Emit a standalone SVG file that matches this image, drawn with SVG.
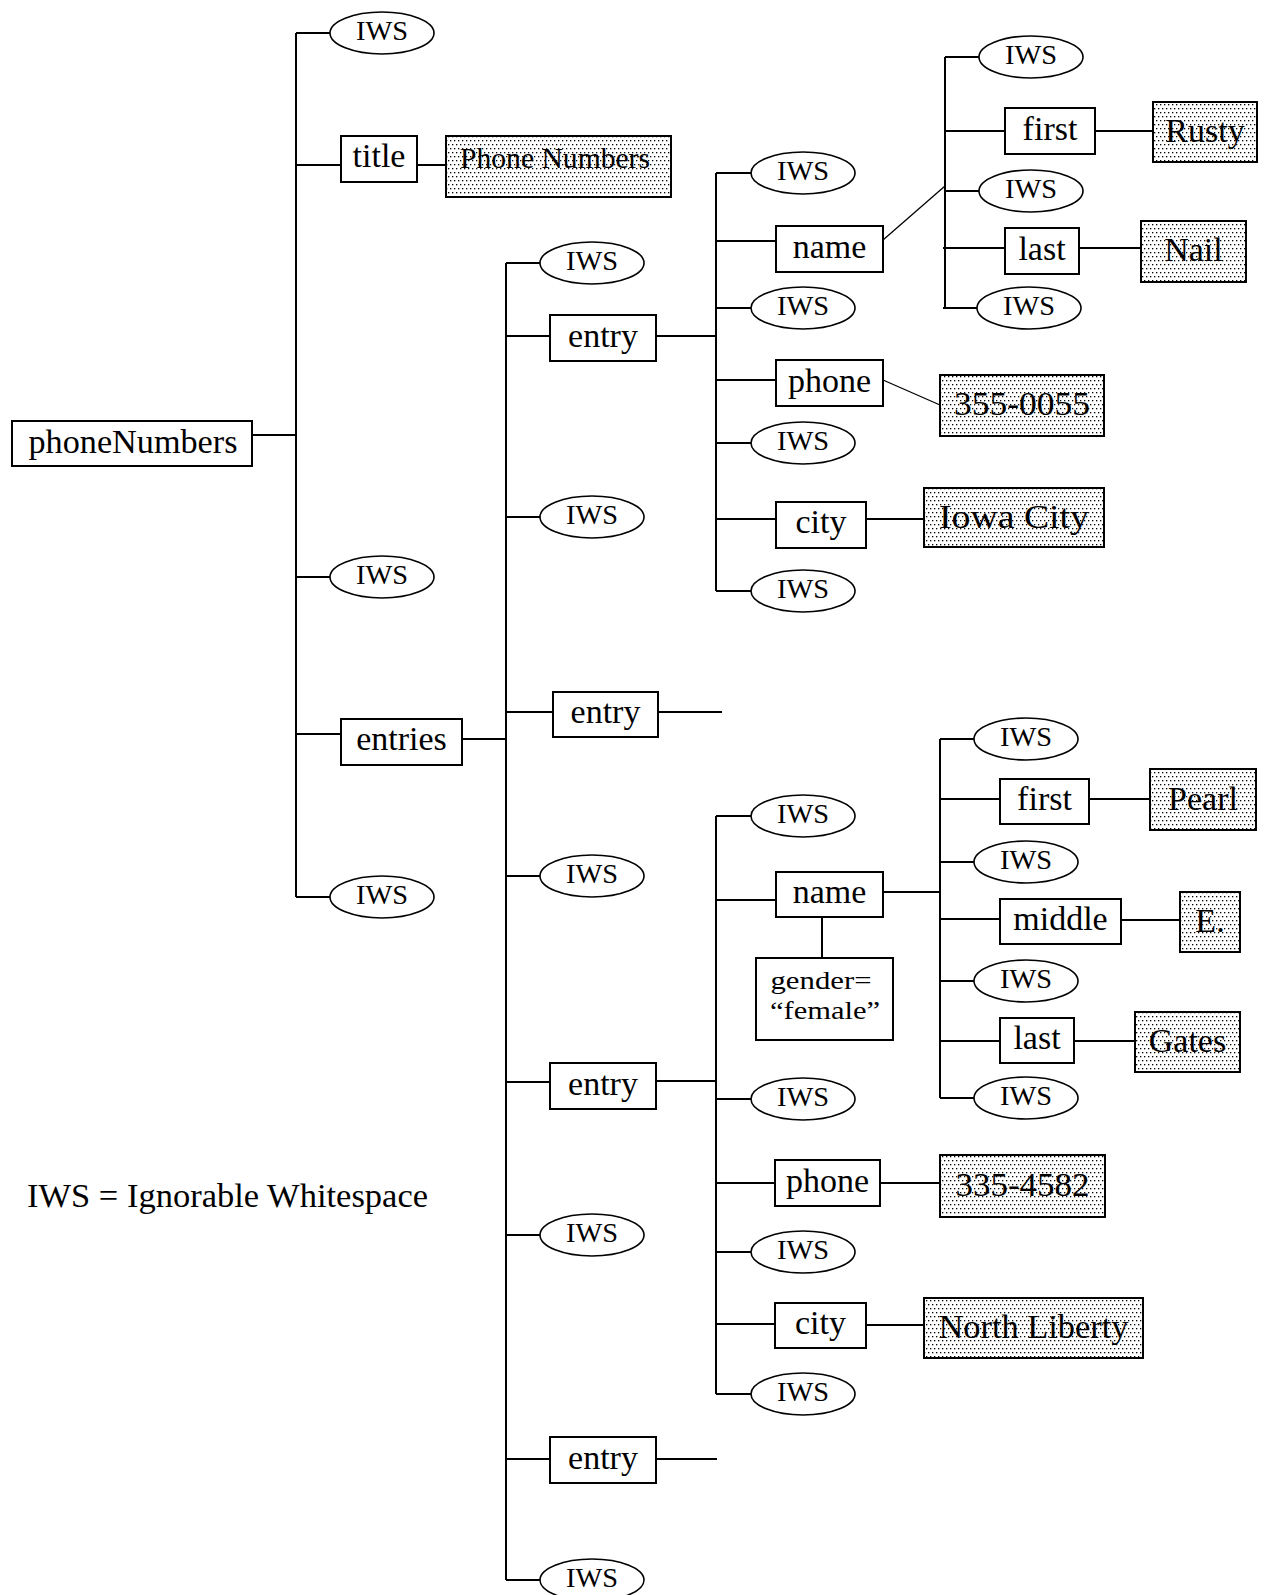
<svg xmlns="http://www.w3.org/2000/svg" width="1265" height="1595" viewBox="0 0 1265 1595">
<defs>
<pattern id="dots" width="4" height="8" patternUnits="userSpaceOnUse">
<rect width="4" height="8" fill="#fff"/>
<rect x="0" y="0" width="1.3" height="1.3" fill="#000"/>
<rect x="2" y="4" width="1.3" height="1.3" fill="#000"/>
</pattern>
</defs>
<style>
.box{fill:#fff;stroke:#000;stroke-width:2}
.data{fill:url(#dots);stroke:#000;stroke-width:2}
.iws{fill:#fff;stroke:#000;stroke-width:1.6}
.c line{stroke:#000;stroke-width:2;fill:none}
.c .thin{stroke-width:1.3}
text{font-family:"Liberation Serif","Times New Roman",serif;fill:#000;text-anchor:middle}
.t{font-size:34px}
.d{font-size:34px}
.i{font-size:27px}
.g{font-size:25px}
</style>
<rect width="1265" height="1595" fill="#fff"/>
<g id="connectors" class="c">
<line x1="252" y1="435" x2="296" y2="435"/>
<line x1="296" y1="33" x2="296" y2="897"/>
<line x1="296" y1="33" x2="330" y2="33"/>
<line x1="296" y1="165" x2="341" y2="165"/>
<line x1="417" y1="165" x2="446" y2="165"/>
<line x1="296" y1="577" x2="330" y2="577"/>
<line x1="296" y1="734" x2="341" y2="734"/>
<line x1="462" y1="739" x2="506" y2="739"/>
<line x1="296" y1="897" x2="330" y2="897"/>
<line x1="506" y1="263" x2="506" y2="1580"/>
<line x1="506" y1="263" x2="540" y2="263"/>
<line x1="506" y1="336" x2="550" y2="336"/>
<line x1="656" y1="336" x2="716" y2="336"/>
<line x1="506" y1="517" x2="540" y2="517"/>
<line x1="506" y1="712" x2="553" y2="712"/>
<line x1="658" y1="712" x2="722" y2="712"/>
<line x1="506" y1="876" x2="540" y2="876"/>
<line x1="506" y1="1082" x2="550" y2="1082"/>
<line x1="656" y1="1081" x2="716" y2="1081"/>
<line x1="506" y1="1235" x2="540" y2="1235"/>
<line x1="506" y1="1459" x2="550" y2="1459"/>
<line x1="656" y1="1459" x2="717" y2="1459"/>
<line x1="506" y1="1580" x2="540" y2="1580"/>
<line x1="716" y1="173" x2="716" y2="591"/>
<line x1="716" y1="173" x2="751" y2="173"/>
<line x1="716" y1="241" x2="776" y2="241"/>
<line x1="716" y1="308" x2="751" y2="308"/>
<line x1="716" y1="380" x2="776" y2="380"/>
<line x1="716" y1="443" x2="751" y2="443"/>
<line x1="716" y1="519" x2="776" y2="519"/>
<line x1="716" y1="591" x2="751" y2="591"/>
<line class="thin" x1="883" y1="240" x2="945" y2="186"/>
<line x1="945" y1="57" x2="945" y2="308"/>
<line x1="945" y1="57" x2="979" y2="57"/>
<line x1="945" y1="131" x2="1005" y2="131"/>
<line x1="1095" y1="131" x2="1153" y2="131"/>
<line x1="945" y1="191" x2="979" y2="191"/>
<line x1="943" y1="248" x2="1005" y2="248"/>
<line x1="1079" y1="248" x2="1141" y2="248"/>
<line x1="943" y1="308" x2="977" y2="308"/>
<line class="thin" x1="883" y1="380" x2="940" y2="405"/>
<line x1="866" y1="519" x2="924" y2="519"/>
<line x1="716" y1="816" x2="716" y2="1394"/>
<line x1="716" y1="816" x2="751" y2="816"/>
<line x1="716" y1="900" x2="776" y2="900"/>
<line x1="822" y1="917" x2="822" y2="958"/>
<line x1="883" y1="892" x2="940" y2="892"/>
<line x1="940" y1="739" x2="940" y2="1098"/>
<line x1="940" y1="739" x2="974" y2="739"/>
<line x1="940" y1="799" x2="1000" y2="799"/>
<line x1="1089" y1="799" x2="1150" y2="799"/>
<line x1="940" y1="862" x2="974" y2="862"/>
<line x1="940" y1="919" x2="1000" y2="919"/>
<line x1="1121" y1="920" x2="1180" y2="920"/>
<line x1="940" y1="981" x2="974" y2="981"/>
<line x1="940" y1="1041" x2="1000" y2="1041"/>
<line x1="1074" y1="1041" x2="1135" y2="1041"/>
<line x1="940" y1="1098" x2="974" y2="1098"/>
<line x1="716" y1="1099" x2="751" y2="1099"/>
<line x1="716" y1="1183" x2="775" y2="1183"/>
<line x1="880" y1="1183" x2="940" y2="1183"/>
<line x1="716" y1="1252" x2="751" y2="1252"/>
<line x1="716" y1="1324" x2="775" y2="1324"/>
<line x1="866" y1="1325" x2="924" y2="1325"/>
<line x1="716" y1="1394" x2="751" y2="1394"/>
</g>
<g id="n-phoneNumbers"><rect class="box" x="12" y="421" width="240" height="45"/><text class="t" x="133" y="453" textLength="209" lengthAdjust="spacingAndGlyphs">phoneNumbers</text></g>
<g id="n-iws-1"><ellipse class="iws" cx="382" cy="33" rx="52" ry="21"/><text class="i" x="382" y="40" textLength="52" lengthAdjust="spacingAndGlyphs">IWS</text></g>
<g id="n-title"><rect class="box" x="341" y="136" width="76" height="46"/><text class="t" x="379" y="167">title</text></g>
<g id="n-title-val"><rect class="data" x="446" y="136" width="225" height="61"/><text class="d" style="font-size:30px" x="555" y="168" textLength="190" lengthAdjust="spacingAndGlyphs">Phone Numbers</text></g>
<g id="n-iws-2"><ellipse class="iws" cx="382" cy="577" rx="52" ry="21"/><text class="i" x="382" y="584" textLength="52" lengthAdjust="spacingAndGlyphs">IWS</text></g>
<g id="n-entries"><rect class="box" x="341" y="719" width="121" height="46"/><text class="t" x="401.5" y="750">entries</text></g>
<g id="n-iws-3"><ellipse class="iws" cx="382" cy="897" rx="52" ry="21"/><text class="i" x="382" y="904" textLength="52" lengthAdjust="spacingAndGlyphs">IWS</text></g>
<g id="n-iws-4"><ellipse class="iws" cx="592" cy="263" rx="52" ry="21"/><text class="i" x="592" y="270" textLength="52" lengthAdjust="spacingAndGlyphs">IWS</text></g>
<g id="n-entry-1"><rect class="box" x="550" y="315" width="106" height="46"/><text class="t" x="603" y="347">entry</text></g>
<g id="n-iws-5"><ellipse class="iws" cx="592" cy="517" rx="52" ry="21"/><text class="i" x="592" y="524" textLength="52" lengthAdjust="spacingAndGlyphs">IWS</text></g>
<g id="n-entry-2"><rect class="box" x="553" y="692" width="105" height="45"/><text class="t" x="605.5" y="723">entry</text></g>
<g id="n-iws-6"><ellipse class="iws" cx="592" cy="876" rx="52" ry="21"/><text class="i" x="592" y="883" textLength="52" lengthAdjust="spacingAndGlyphs">IWS</text></g>
<g id="n-entry-3"><rect class="box" x="550" y="1063" width="106" height="46"/><text class="t" x="603" y="1095">entry</text></g>
<g id="n-iws-7"><ellipse class="iws" cx="592" cy="1235" rx="52" ry="21"/><text class="i" x="592" y="1242" textLength="52" lengthAdjust="spacingAndGlyphs">IWS</text></g>
<g id="n-entry-4"><rect class="box" x="550" y="1437" width="106" height="46"/><text class="t" x="603" y="1469">entry</text></g>
<g id="n-iws-8"><ellipse class="iws" cx="592" cy="1580" rx="52" ry="21"/><text class="i" x="592" y="1587" textLength="52" lengthAdjust="spacingAndGlyphs">IWS</text></g>
<g id="n-e1-iws-1"><ellipse class="iws" cx="803" cy="173" rx="52" ry="21"/><text class="i" x="803" y="180" textLength="52" lengthAdjust="spacingAndGlyphs">IWS</text></g>
<g id="n-e1-name"><rect class="box" x="776" y="226" width="107" height="46"/><text class="t" x="829.5" y="258">name</text></g>
<g id="n-e1-iws-2"><ellipse class="iws" cx="803" cy="308" rx="52" ry="21"/><text class="i" x="803" y="315" textLength="52" lengthAdjust="spacingAndGlyphs">IWS</text></g>
<g id="n-e1-phone"><rect class="box" x="776" y="360" width="107" height="46"/><text class="t" x="829.5" y="392">phone</text></g>
<g id="n-e1-iws-3"><ellipse class="iws" cx="803" cy="443" rx="52" ry="21"/><text class="i" x="803" y="450" textLength="52" lengthAdjust="spacingAndGlyphs">IWS</text></g>
<g id="n-e1-city"><rect class="box" x="776" y="502" width="90" height="46"/><text class="t" x="821" y="533">city</text></g>
<g id="n-e1-iws-4"><ellipse class="iws" cx="803" cy="591" rx="52" ry="21"/><text class="i" x="803" y="598" textLength="52" lengthAdjust="spacingAndGlyphs">IWS</text></g>
<g id="n-e1-n-iws-1"><ellipse class="iws" cx="1031" cy="57" rx="52" ry="21"/><text class="i" x="1031" y="64" textLength="52" lengthAdjust="spacingAndGlyphs">IWS</text></g>
<g id="n-e1-first"><rect class="box" x="1005" y="108" width="90" height="46"/><text class="t" x="1050" y="140">first</text></g>
<g id="n-e1-first-val"><rect class="data" x="1153" y="102" width="104" height="60"/><text class="d" x="1205" y="142">Rusty</text></g>
<g id="n-e1-n-iws-2"><ellipse class="iws" cx="1031" cy="191" rx="52" ry="21"/><text class="i" x="1031" y="198" textLength="52" lengthAdjust="spacingAndGlyphs">IWS</text></g>
<g id="n-e1-last"><rect class="box" x="1005" y="228" width="74" height="46"/><text class="t" x="1042" y="260">last</text></g>
<g id="n-e1-last-val"><rect class="data" x="1141" y="221" width="105" height="61"/><text class="d" x="1193.5" y="261">Nail</text></g>
<g id="n-e1-n-iws-3"><ellipse class="iws" cx="1029" cy="308" rx="52" ry="21"/><text class="i" x="1029" y="315" textLength="52" lengthAdjust="spacingAndGlyphs">IWS</text></g>
<g id="n-e1-phone-val"><rect class="data" x="940" y="375" width="164" height="61"/><text class="d" x="1022" y="415" textLength="136" lengthAdjust="spacingAndGlyphs">355-0055</text></g>
<g id="n-e1-city-val"><rect class="data" x="924" y="488" width="180" height="59"/><text class="d" x="1014" y="528" textLength="150" lengthAdjust="spacingAndGlyphs">Iowa City</text></g>
<g id="n-e3-iws-1"><ellipse class="iws" cx="803" cy="816" rx="52" ry="21"/><text class="i" x="803" y="823" textLength="52" lengthAdjust="spacingAndGlyphs">IWS</text></g>
<g id="n-e3-name"><rect class="box" x="776" y="872" width="107" height="45"/><text class="t" x="829.5" y="903">name</text></g>
<g id="n-e3-gender"><rect class="box" x="756" y="958" width="137" height="82"/><text class="g" x="821" y="989" textLength="101" lengthAdjust="spacingAndGlyphs">gender=</text><text class="g" x="825" y="1019" textLength="110" lengthAdjust="spacingAndGlyphs">“female”</text></g>
<g id="n-e3-n-iws-1"><ellipse class="iws" cx="1026" cy="739" rx="52" ry="21"/><text class="i" x="1026" y="746" textLength="52" lengthAdjust="spacingAndGlyphs">IWS</text></g>
<g id="n-e3-first"><rect class="box" x="1000" y="779" width="89" height="45"/><text class="t" x="1044.5" y="810">first</text></g>
<g id="n-e3-first-val"><rect class="data" x="1150" y="769" width="106" height="61"/><text class="d" x="1203" y="810">Pearl</text></g>
<g id="n-e3-n-iws-2"><ellipse class="iws" cx="1026" cy="862" rx="52" ry="21"/><text class="i" x="1026" y="869" textLength="52" lengthAdjust="spacingAndGlyphs">IWS</text></g>
<g id="n-e3-middle"><rect class="box" x="1000" y="899" width="121" height="45"/><text class="t" x="1060.5" y="930">middle</text></g>
<g id="n-e3-middle-val"><rect class="data" x="1180" y="892" width="60" height="60"/><text class="d" x="1210" y="932">E.</text></g>
<g id="n-e3-n-iws-3"><ellipse class="iws" cx="1026" cy="981" rx="52" ry="21"/><text class="i" x="1026" y="988" textLength="52" lengthAdjust="spacingAndGlyphs">IWS</text></g>
<g id="n-e3-last"><rect class="box" x="1000" y="1018" width="74" height="45"/><text class="t" x="1037" y="1049">last</text></g>
<g id="n-e3-last-val"><rect class="data" x="1135" y="1012" width="105" height="60"/><text class="d" x="1187.5" y="1052">Gates</text></g>
<g id="n-e3-n-iws-4"><ellipse class="iws" cx="1026" cy="1098" rx="52" ry="21"/><text class="i" x="1026" y="1105" textLength="52" lengthAdjust="spacingAndGlyphs">IWS</text></g>
<g id="n-e3-iws-2"><ellipse class="iws" cx="803" cy="1099" rx="52" ry="21"/><text class="i" x="803" y="1106" textLength="52" lengthAdjust="spacingAndGlyphs">IWS</text></g>
<g id="n-e3-phone"><rect class="box" x="775" y="1160" width="105" height="46"/><text class="t" x="827.5" y="1192">phone</text></g>
<g id="n-e3-phone-val"><rect class="data" x="940" y="1155" width="165" height="62"/><text class="d" x="1022.5" y="1196" textLength="134" lengthAdjust="spacingAndGlyphs">335-4582</text></g>
<g id="n-e3-iws-3"><ellipse class="iws" cx="803" cy="1252" rx="52" ry="21"/><text class="i" x="803" y="1259" textLength="52" lengthAdjust="spacingAndGlyphs">IWS</text></g>
<g id="n-e3-city"><rect class="box" x="775" y="1303" width="91" height="45"/><text class="t" x="820.5" y="1334">city</text></g>
<g id="n-e3-city-val"><rect class="data" x="924" y="1298" width="219" height="60"/><text class="d" x="1033.5" y="1338" textLength="190" lengthAdjust="spacingAndGlyphs">North Liberty</text></g>
<g id="n-e3-iws-4"><ellipse class="iws" cx="803" cy="1394" rx="52" ry="21"/><text class="i" x="803" y="1401" textLength="52" lengthAdjust="spacingAndGlyphs">IWS</text></g>
<g id="legend"><text style="font-size:33px;text-anchor:start" x="27" y="1207" textLength="401" lengthAdjust="spacingAndGlyphs">IWS = Ignorable Whitespace</text></g>
</svg>
